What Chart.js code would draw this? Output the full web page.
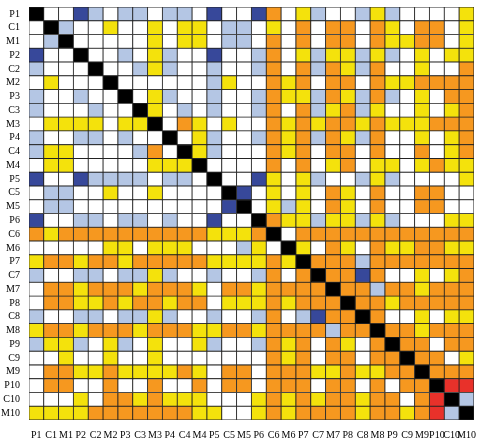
<!DOCTYPE html>
<html><head><meta charset="utf-8">
<script src="https://cdn.jsdelivr.net/npm/chart.js@4"></script>
<style>html,body{margin:0;padding:0;background:#fff}#wrap{width:477px;height:442px}</style>
</head><body><div id="wrap"><canvas id="c"></canvas></div>
<script>
const names = ["P1","C1","M1","P2","C2","M2","P3","C3","M3","P4","C4","M4","P5","C5","M5","P6","C6","M6","P7","C7","M7","P8","C8","M8","P9","C9","M9","P10","C10","M10"];

// upper triangle, row i starts at column i (k = diagonal)
// w white, l light blue, d dark blue, y yellow, o orange, r red
const upper = [
  "kwwdlwllwllwdwwdowylwwlylwwwwy",
  "klwwywwywyywllwywowoowoywoowy",
  "kwwwwwywyywllwowowoowoyyoowy",
  "kwwlwylwwdwwlowylyylylwywyy",
  "kwwlylwwlwwlowoloylowwywwo",
  "kwwwwwwlywwoyowoowoyyoooo",
  "kwylwwlwwloyyloylolwywoo",
  "kywlwlwwlowolyolywwywyo",
  "kwoywywwoyoyooyoyyyooo",
  "kwylwwloyoloylowwywyo",
  "kylwwwoyowoowowwowyo",
  "kwwwwowowyowyywyoyy",
  "kwwdywylwwlylwwwwy",
  "kdwywywoywowwooww",
  "kwylywoywowwooww",
  "koyylyylylwwwyy",
  "kwoooooooooooo",
  "kywoywoyyooyy",
  "koooloooooooo",
  "koodowwywyo",
  "koolooyooo",
  "kooyooooo",
  "kowwywyy",
  "kooyooo",
  "koowoo",
  "koowy",
  "kooo",
  "krr",
  "kl",
  "k"
];

const palette = { w: "#ffffff", l: "#b4c6e4", d: "#37489a", y: "#f4e20c", o: "#f6981f", r: "#e8312a", k: "#000000" };

const cell = (i, j) => (i <= j ? upper[i][j - i] : upper[j][i - j]);

// one dataset per row, stacked bottom-up so last row first
const datasets = [];
for (let r = names.length - 1; r >= 0; r--) {
  datasets.push({
    label: names[r],
    data: names.map(() => 1),
    backgroundColor: names.map((_, c) => palette[cell(r, c)]),
    borderColor: "#222",
    borderWidth: 0.8,
    borderSkipped: false,
    categoryPercentage: 1,
    barPercentage: 1
  });
}

const font = { family: "Liberation Serif", size: 10 };

new Chart(document.getElementById("c"), {
  type: "bar",
  data: { labels: names, datasets },
  options: {
    responsive: true,
    maintainAspectRatio: false,
    animation: false,
    layout: { padding: { top: 1, right: 2, bottom: 0, left: 0 } },
    plugins: { legend: { display: false }, tooltip: { enabled: false } },
    scales: {
      x: {
        stacked: true,
        grid: { display: false },
        border: { display: false },
        ticks: { color: "#000", font, maxRotation: 0, autoSkip: false, padding: 1 }
      },
      y: {
        stacked: true,
        min: 0,
        max: 30,
        display: false
      },
      yLab: {
        type: "category",
        labels: names,
        position: "left",
        offset: true,
        grid: { display: false },
        border: { display: false },
        ticks: { color: "#000", font, autoSkip: false, padding: 1 }
      }
    }
  }
});
</script>
</body></html>
